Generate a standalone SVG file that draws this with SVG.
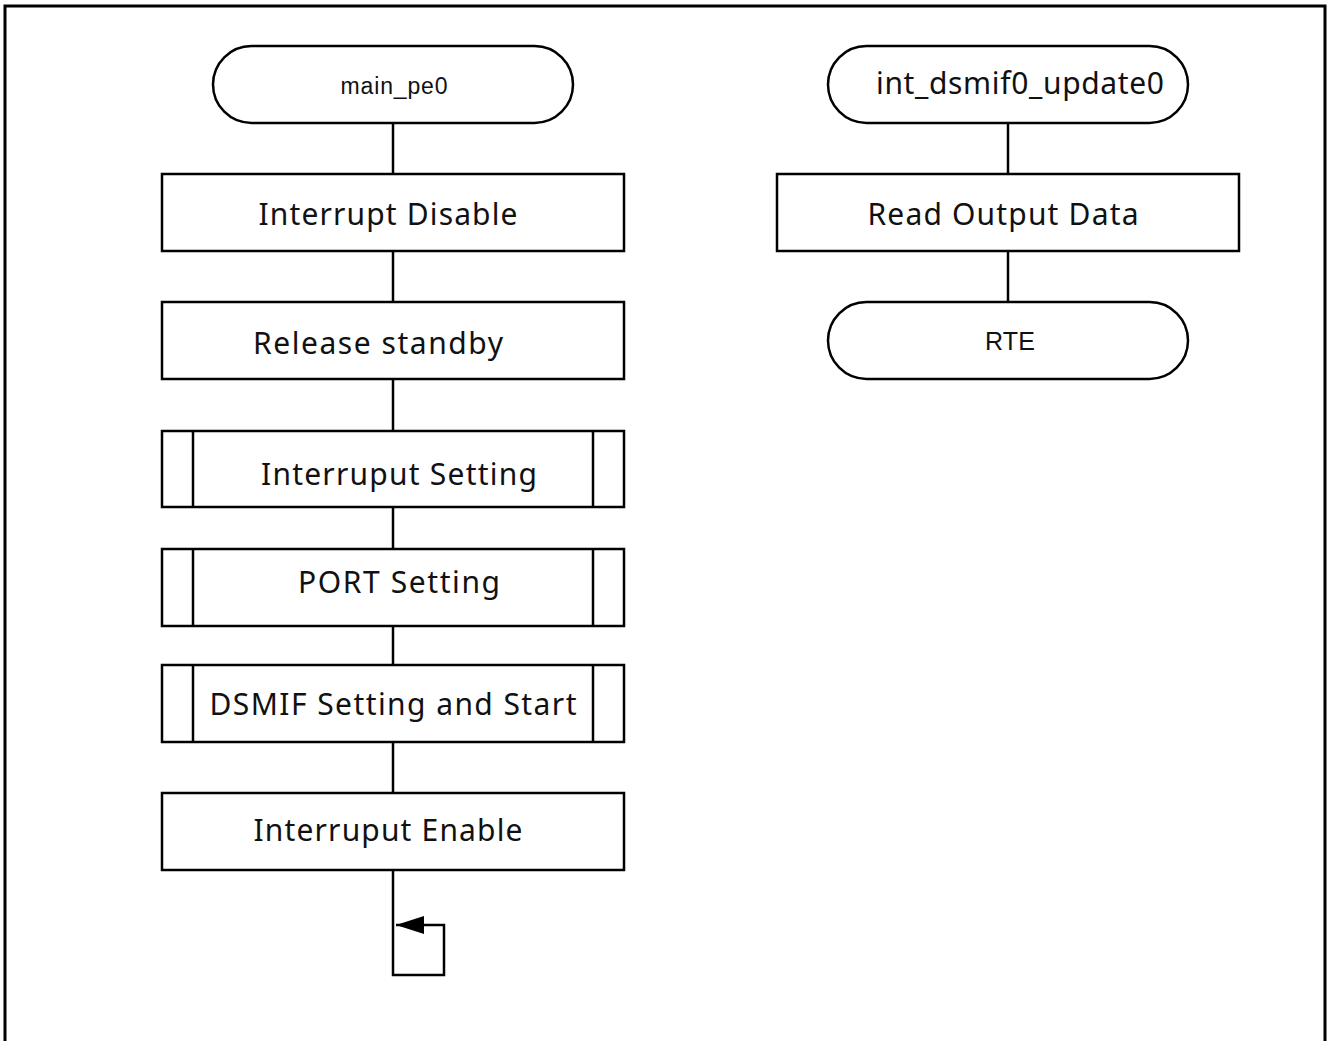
<svg xmlns="http://www.w3.org/2000/svg" width="1328" height="1041" viewBox="0 0 1328 1041">
<style>
.b{fill:#fff;stroke:#000;stroke-width:2.5}
.l{fill:none;stroke:#000;stroke-width:2.5}
.t{font-family:"Noto Sans","Open Sans",sans-serif;fill:#111;text-anchor:middle}
.a{font-family:"Liberation Sans",Arial,sans-serif;fill:#111;text-anchor:middle}
.s{font-size:30px}
.m{font-size:23px}
.r{font-size:25px}
</style>
<defs>
<marker id="ah" markerWidth="30" markerHeight="18" refX="28" refY="9" orient="auto" markerUnits="userSpaceOnUse">
<path d="M0,0 L28,9 L0,18 Z" fill="#000"/>
</marker>
</defs>
<rect x="0" y="0" width="1328" height="1041" fill="#fff"/>
<path d="M5,1041 V6 H1325 V1041" fill="none" stroke="#000" stroke-width="3"/>
<g id="connectors">
<line class="l" x1="393" y1="123" x2="393" y2="174"/>
<line class="l" x1="393" y1="251" x2="393" y2="302"/>
<line class="l" x1="393" y1="379" x2="393" y2="431"/>
<line class="l" x1="393" y1="507" x2="393" y2="549"/>
<line class="l" x1="393" y1="626" x2="393" y2="665"/>
<line class="l" x1="393" y1="742" x2="393" y2="793"/>
<path class="l" d="M393,870 V975 H444 V925 H396" marker-end="url(#ah)"/>
<line class="l" x1="1008" y1="123" x2="1008" y2="174"/>
<line class="l" x1="1008" y1="251" x2="1008" y2="302"/>
</g>
<g id="main_pe0">
<rect class="b" x="213" y="46" width="360" height="77" rx="38.5"/>
<text class="a m" x="394" y="94" textLength="107">main_pe0</text>
</g>
<g id="interrupt_disable">
<rect class="b" x="162" y="174" width="462" height="77"/>
<text class="t s" x="388" y="225" textLength="259">Interrupt Disable</text>
</g>
<g id="release_standby">
<rect class="b" x="162" y="302" width="462" height="77"/>
<text class="t s" x="378" y="354" textLength="250">Release standby</text>
</g>
<g id="interruput_setting">
<rect class="b" x="162" y="431" width="462" height="76"/>
<line class="l" x1="193" y1="431" x2="193" y2="507"/>
<line class="l" x1="593" y1="431" x2="593" y2="507"/>
<text class="t s" x="399" y="485" textLength="276">Interruput Setting</text>
</g>
<g id="port_setting">
<rect class="b" x="162" y="549" width="462" height="77"/>
<line class="l" x1="193" y1="549" x2="193" y2="626"/>
<line class="l" x1="593" y1="549" x2="593" y2="626"/>
<text class="t s" x="399" y="593" textLength="202">PORT Setting</text>
</g>
<g id="dsmif_setting">
<rect class="b" x="162" y="665" width="462" height="77"/>
<line class="l" x1="193" y1="665" x2="193" y2="742"/>
<line class="l" x1="593" y1="665" x2="593" y2="742"/>
<text class="t s" x="393" y="715" textLength="367">DSMIF Setting and Start</text>
</g>
<g id="interruput_enable">
<rect class="b" x="162" y="793" width="462" height="77"/>
<text class="t s" x="388" y="841" textLength="269">Interruput Enable</text>
</g>
<g id="int_dsmif0_update0">
<rect class="b" x="828" y="46" width="360" height="77" rx="38.5"/>
<text class="t s" x="1020" y="94" textLength="288">int_dsmif0_update0</text>
</g>
<g id="read_output_data">
<rect class="b" x="777" y="174" width="462" height="77"/>
<text class="t s" x="1003" y="225" textLength="271">Read Output Data</text>
</g>
<g id="rte">
<rect class="b" x="828" y="302" width="360" height="77" rx="38.5"/>
<text class="a r" x="1010" y="350" textLength="50">RTE</text>
</g>
</svg>
